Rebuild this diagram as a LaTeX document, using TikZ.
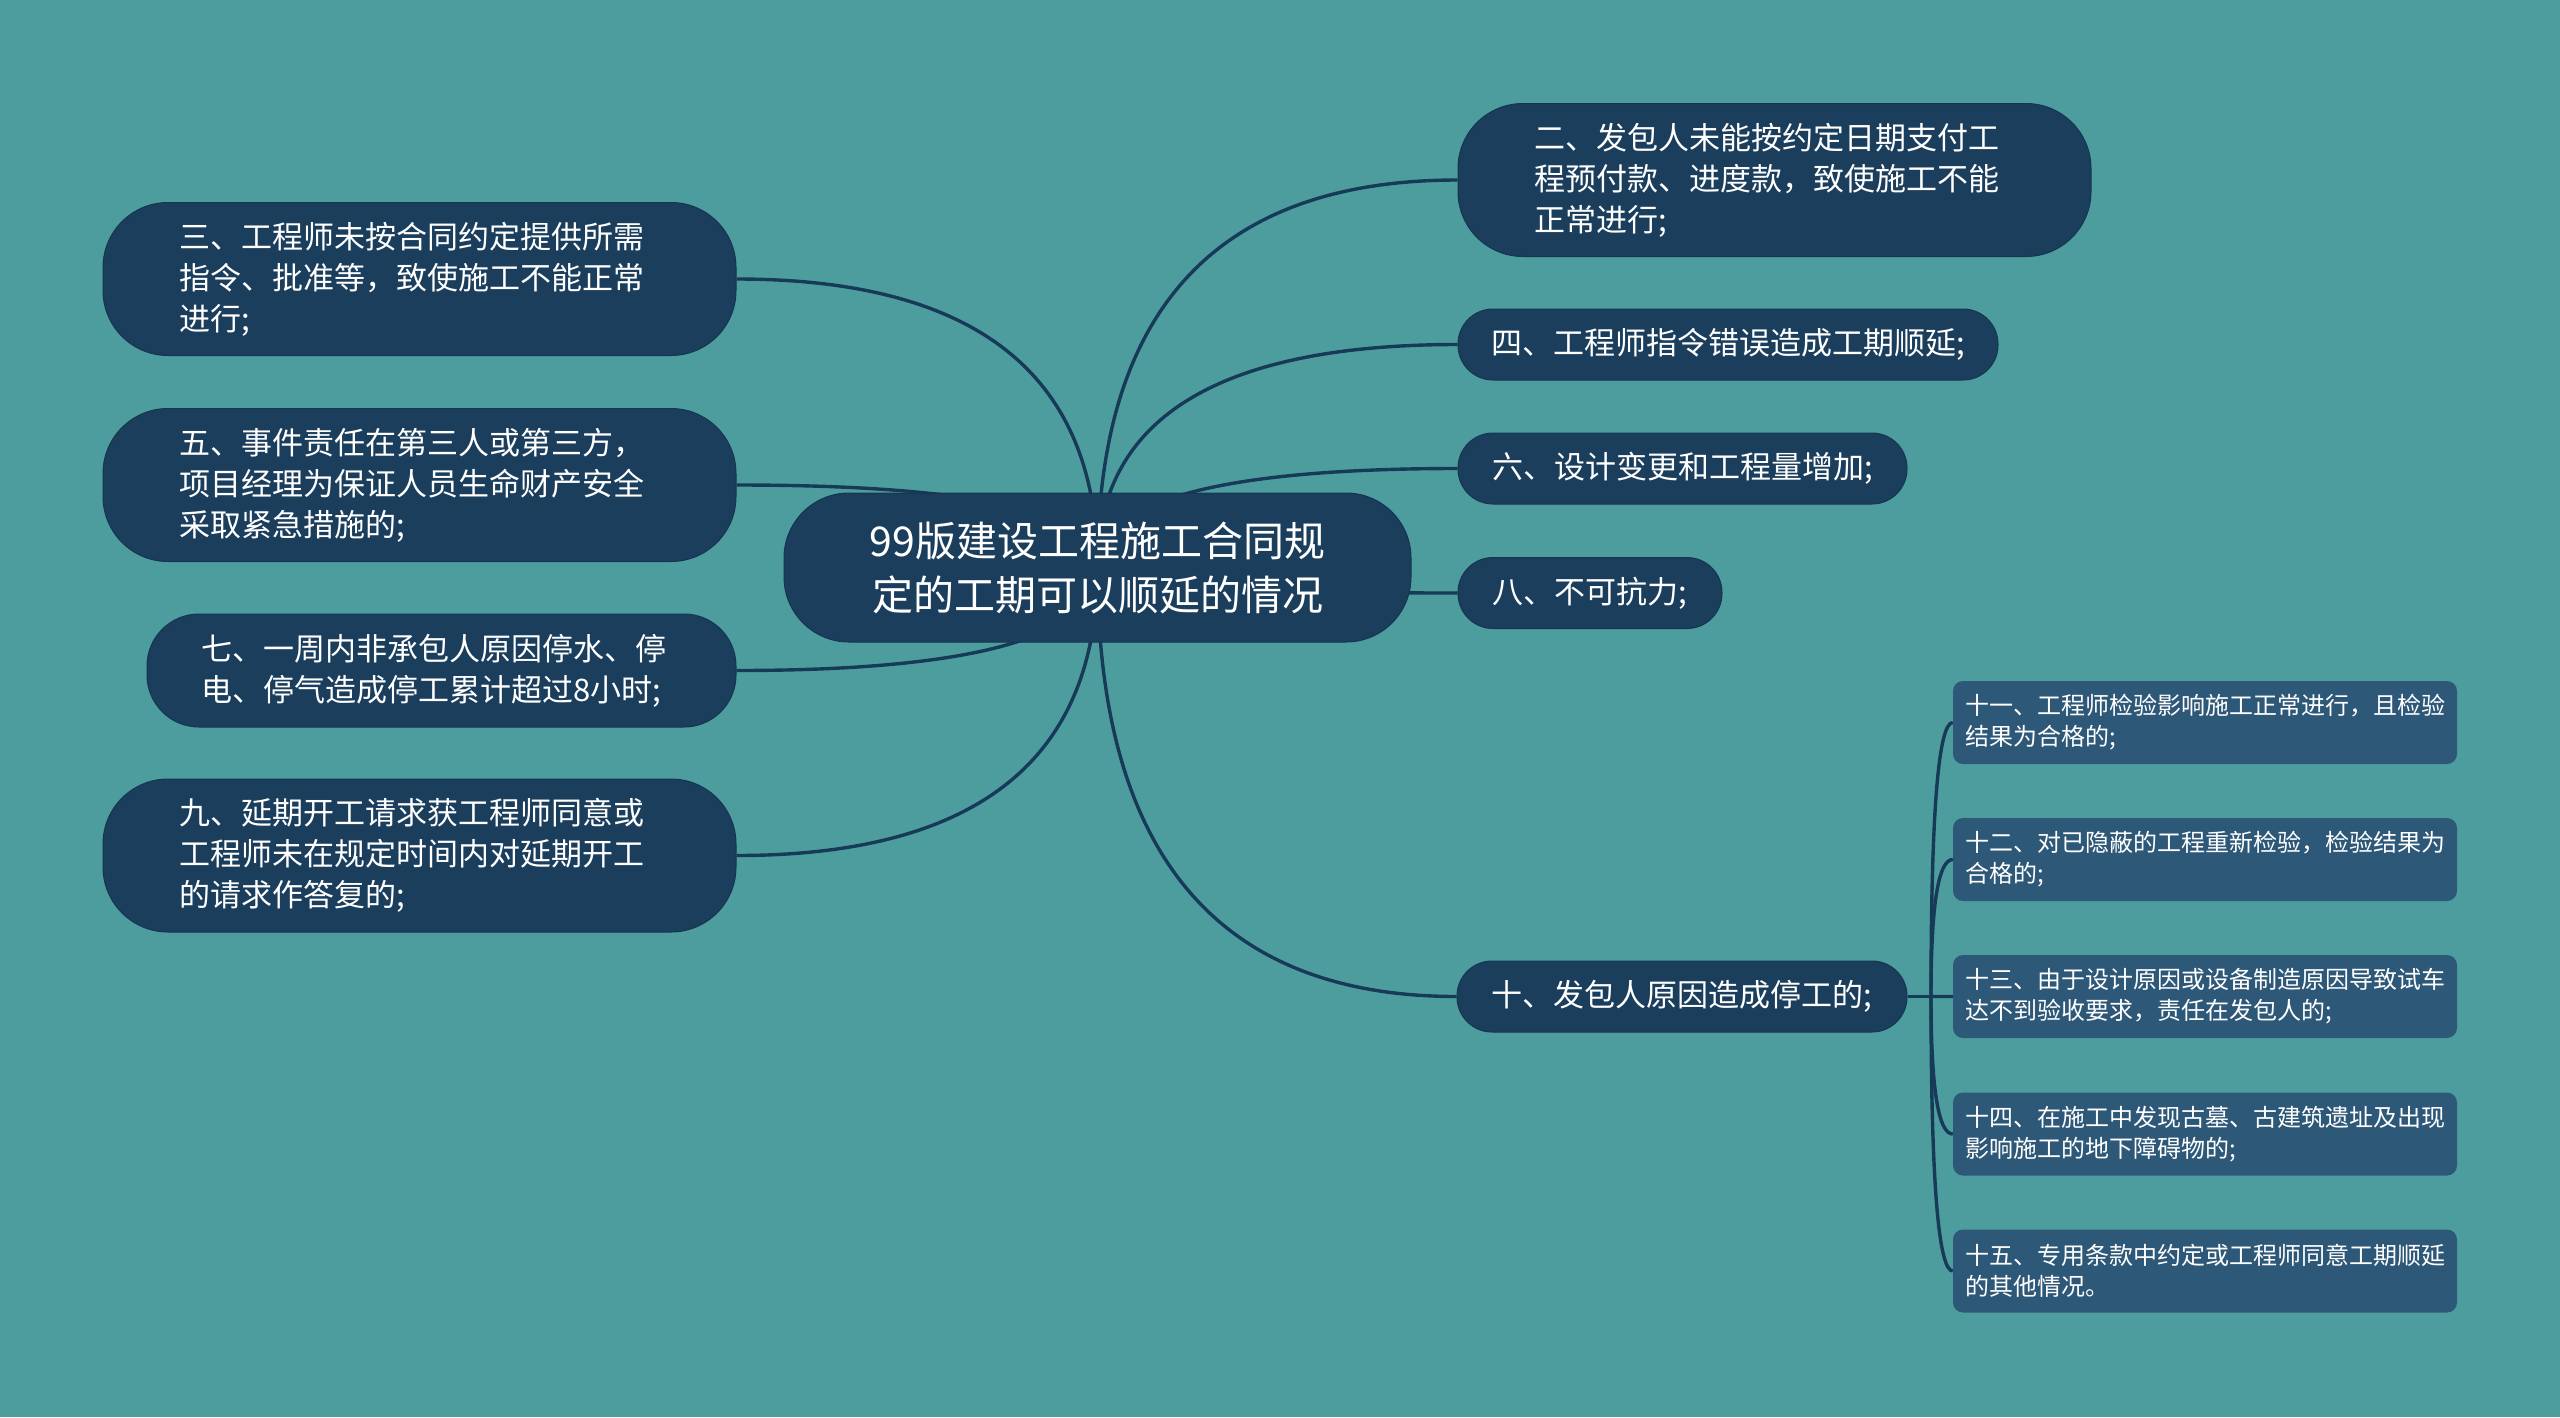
\documentclass[tikz,border=0pt]{standalone}
\usepackage{fontspec}
\setmainfont{Noto Sans CJK SC}
\usetikzlibrary{calc,backgrounds}
\definecolor{bg}{HTML}{4E9D9E}
\definecolor{nodefill}{HTML}{1B3E5D}
\definecolor{nodeedge}{HTML}{163550}
\definecolor{subfill}{HTML}{2E5878}
\definecolor{linec}{HTML}{173A58}
\newcommand\mmlink[2]{%
  \coordinate (mmk) at (#1 |- #2);
  \draw[conn] (#1) .. controls ($(#1)!0.6667!(mmk)$) and ($(#2)!0.6667!(mmk)$) .. (#2);}
\begin{document}
\begin{tikzpicture}[x=1pt,y=-1pt,
  conn/.style={draw=linec, line width=3.4pt},
  mainbox/.style={fill=nodefill, draw=nodeedge, line width=1pt, text=white, align=center,
    font=\fontsize{41}{54}\selectfont, minimum width=627pt, minimum height=149pt,
    rounded corners=65pt, inner sep=0pt},
  lvone/.style={fill=nodefill, draw=nodeedge, line width=1pt, text=white, align=left,
    font=\fontsize{31}{41}\selectfont, inner sep=0pt},
  onebox/.style={lvone, minimum height=71pt, rounded corners=35pt},
  threebox/.style={lvone, text width=481pt, minimum width=633pt, minimum height=153pt, rounded corners=65pt},
  lvtwo/.style={fill=subfill, text=white, align=left, font=\fontsize{24}{31}\selectfont,
    inner sep=0pt, minimum width=504pt, minimum height=83pt, rounded corners=10pt}]
\useasboundingbox (0,0) rectangle (2560,1417);

% center
\node[mainbox] (ctr) at (1097.5,567.5) {99版建设工程施工合同规\\定的工期可以顺延的情况};

% right level one
\node[threebox] (n2) at (1774.5,180) {二、发包人未能按约定日期支付工\\程预付款、进度款，致使施工不能\\正常进行;};
\node[onebox, minimum width=540pt] (n4) at (1728,344.5) {四、工程师指令错误造成工期顺延;};
\node[onebox, minimum width=449pt] (n6) at (1682.5,468.5) {六、设计变更和工程量增加;};
\node[onebox, minimum width=264pt] (n8) at (1590,593) {八、不可抗力;};
\node[onebox, minimum width=450pt] (n10) at (1682,996.5) {十、发包人原因造成停工的;};

% left level one
\node[threebox] (n3) at (419.5,279) {三、工程师未按合同约定提供所需\\指令、批准等，致使施工不能正常\\进行;};
\node[threebox] (n5) at (419.5,485) {五、事件责任在第三人或第三方，\\项目经理为保证人员生命财产安全\\采取紧急措施的;};
\node[lvone, text width=481pt, minimum width=589pt, minimum height=113pt, rounded corners=52pt] (n7) at (441.5,670.5) {七、一周内非承包人原因停水、停\\电、停气造成停工累计超过8小时;};
\node[threebox] (n9) at (419.5,855.5) {九、延期开工请求获工程师同意或\\工程师未在规定时间内对延期开工\\的请求作答复的;};

% level two
\node[lvtwo] (c11) at (2205,722.5) {十一、工程师检验影响施工正常进行，且检验\\结果为合格的;};
\node[lvtwo] (c12) at (2205,859.5) {十二、对已隐蔽的工程重新检验，检验结果为\\合格的;};
\node[lvtwo] (c13) at (2205,996.5) {十三、由于设计原因或设备制造原因导致试车\\达不到验收要求，责任在发包人的;};
\node[lvtwo] (c14) at (2205,1134) {十四、在施工中发现古墓、古建筑遗址及出现\\影响施工的地下障碍物的;};
\node[lvtwo] (c15) at (2205,1271) {十五、专用条款中约定或工程师同意工期顺延\\的其他情况。};

\begin{scope}[on background layer]
\fill[bg] (0,0) rectangle (2560,1417);
\mmlink{ctr.center}{n2.west}
\mmlink{ctr.center}{n4.west}
\mmlink{ctr.center}{n6.west}
\mmlink{ctr.center}{n8.west}
\mmlink{ctr.center}{n10.west}
\mmlink{ctr.center}{n3.east}
\mmlink{ctr.center}{n5.east}
\mmlink{ctr.center}{n7.east}
\mmlink{ctr.center}{n9.east}
\coordinate (j) at (1931,996.5);
\draw[conn] (n10.east) -- (j);
\mmlink{j}{c11.west}
\mmlink{j}{c12.west}
\mmlink{j}{c13.west}
\mmlink{j}{c14.west}
\mmlink{j}{c15.west}
\end{scope}
\end{tikzpicture}
\end{document}
